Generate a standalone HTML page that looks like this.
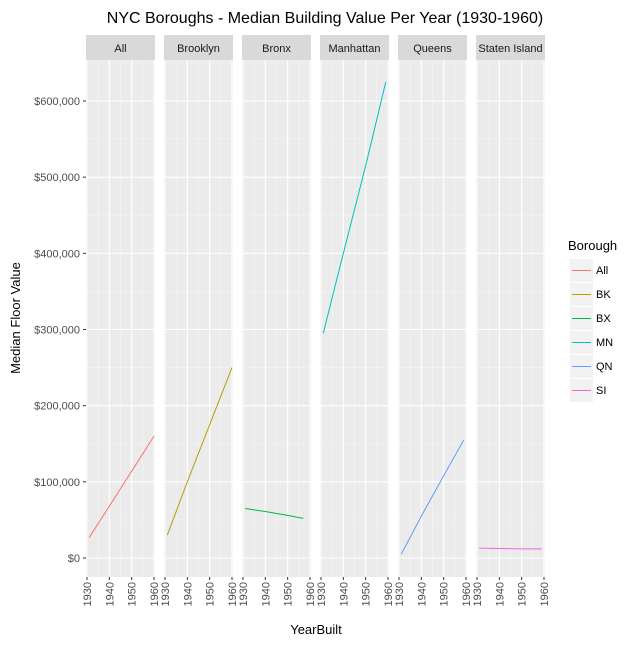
<!DOCTYPE html>
<html><head><meta charset="utf-8"><style>
body{margin:0;background:#fff;font-family:"Liberation Sans",Arial,sans-serif}
</style></head><body>
<svg id="chart" width="640" height="640" xmlns="http://www.w3.org/2000/svg" font-family="Liberation Sans, Arial, sans-serif">
<rect width="640" height="640" fill="#fff"/>
<text x="325" y="23" font-size="16" text-anchor="middle" fill="#000">NYC Boroughs - Median Building Value Per Year (1930-1960)</text>
<text x="20" y="318" font-size="13" text-anchor="middle" transform="rotate(-90 20 318)">Median Floor Value</text>
<text x="316" y="634" font-size="13" text-anchor="middle">YearBuilt</text>
<g id="panels"></g>
<g id="legend"></g>
</svg>
<script>
const facets=["All","Brooklyn","Bronx","Manhattan","Queens","Staten Island"];
const codes=["All","BK","BX","MN","QN","SI"];
const colors=["#F8766D","#B79F00","#00BA38","#00BFC4","#619CFF","#F564E3"];
const years=[[1931,1940,1950,1960],[1931,1940,1950,1960],[1931,1940,1950,1957],[1931,1940,1950,1959],[1931,1940,1950,1959],[1931,1940,1950,1959]];
const values=[[27000,68000,114000,160000],[30000,100000,175000,250000],[65000,61000,56000,52000],[295000,400000,515000,625000],[5000,55000,108000,155000],[13000,12500,12000,12000]];
const yTicks=[0,100000,200000,300000,400000,500000,600000];
const yTickLabels=["$0","$100,000","$200,000","$300,000","$400,000","$500,000","$600,000"];
const xTicks=[1930,1940,1950,1960];
const NS="http://www.w3.org/2000/svg";
const top0=60,bot=577,pw=69;
const y=v=>558-v*(558-101)/600000;
const xs=(i,yr)=>86+i*78+1+(yr-1930)*(pw-2)/30;
function el(t,a,p){const e=document.createElementNS(NS,t);for(const k in a)e.setAttribute(k,a[k]);p.appendChild(e);return e;}
const P=document.getElementById('panels');
// y axis
yTicks.forEach((t,k)=>{
 const tk=el('line',{x1:83,x2:86,y1:y(t),y2:y(t),stroke:'#333'},P);
 
 
 const tx=el('text',{x:80,y:y(t)+4,'font-size':11,'text-anchor':'end',fill:'#4d4d4d'},P);
 tx.textContent=yTickLabels[k];
 
 
});
facets.forEach((f,i)=>{
 const x0=86+i*78;
 const g=el('g',{},P);
 
 
 el('rect',{x:x0,y:35,width:pw,height:25,fill:'#d9d9d9'},g);
 const st=el('text',{x:x0+pw/2,y:52,'font-size':11,'text-anchor':'middle',fill:'#1a1a1a'},g);
 st.textContent=f;
 
 
 el('rect',{x:x0,y:top0,width:pw,height:bot-top0,fill:'#ebebeb'},g);
 for(let v=50000;v<=650000;v+=100000) if(y(v)>top0) el('line',{x1:x0,x2:x0+pw,y1:y(v),y2:y(v),stroke:'#f5f5f5','stroke-width':0.6},g);
 [1935,1945,1955].forEach(t=>el('line',{x1:xs(i,t),x2:xs(i,t),y1:top0,y2:bot,stroke:'#f5f5f5','stroke-width':0.6},g));
 yTicks.forEach(t=>el('line',{x1:x0,x2:x0+pw,y1:y(t),y2:y(t),stroke:'#fff','stroke-width':1.1},g));
 xTicks.forEach(t=>{
  el('line',{x1:xs(i,t),x2:xs(i,t),y1:top0,y2:bot,stroke:'#fff','stroke-width':1.1},g);
  el('line',{x1:xs(i,t),x2:xs(i,t),y1:bot,y2:bot+3,stroke:'#333'},g);
  const tx=el('text',{x:0,y:0,'font-size':11,'text-anchor':'end',fill:'#4d4d4d',transform:`translate(${xs(i,t)+4},${bot+5}) rotate(-90)`},g);
  tx.textContent=t;
  
  
 });
 const pts=years[i].map((yr,k)=>xs(i,yr)+','+y(values[i][k])).join(' ');
 const ln=el('polyline',{points:pts,fill:'none',stroke:colors[i],'stroke-width':1},g);
 
 
});
const L=document.getElementById('legend');
const lt=el('text',{x:568,y:250,'font-size':13,fill:'#000'},L);
lt.textContent='Borough';


codes.forEach((c,k)=>{
 const yy=259+k*24;
 const g=el('g',{},L);
 
 
 el('rect',{x:570,y:yy,width:23,height:23,fill:'#f2f2f2'},g);
 el('line',{x1:572,x2:591,y1:yy+11.5,y2:yy+11.5,stroke:colors[k],'stroke-width':1},g);
 const t=el('text',{x:596,y:yy+15,'font-size':11,fill:'#000'},g);
 t.textContent=c;
});
</script>
</body></html>
